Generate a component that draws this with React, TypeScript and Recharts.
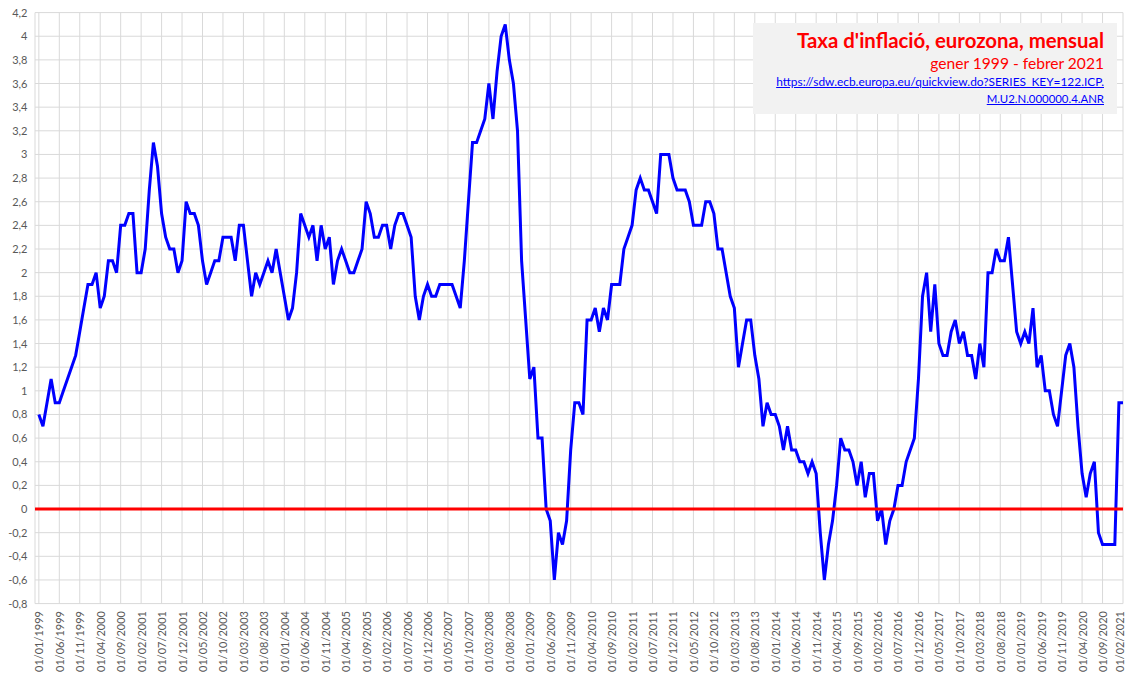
import React from 'react';
import { LineChart, Line, XAxis, YAxis, CartesianGrid, ReferenceLine } from 'recharts';

// Taxa d'inflació interanual, eurozona (HICP), mensual, gener 1999 - febrer 2021
const y1999 = [0.8, 0.7, 0.9, 1.1, 0.9, 0.9, 1.0, 1.1, 1.2, 1.3, 1.5, 1.7];
const y2000 = [1.9, 1.9, 2.0, 1.7, 1.8, 2.1, 2.1, 2.0, 2.4, 2.4, 2.5, 2.5];
const y2001 = [2.0, 2.0, 2.2, 2.7, 3.1, 2.9, 2.5, 2.3, 2.2, 2.2, 2.0, 2.1];
const y2002 = [2.6, 2.5, 2.5, 2.4, 2.1, 1.9, 2.0, 2.1, 2.1, 2.3, 2.3, 2.3];
const y2003 = [2.1, 2.4, 2.4, 2.1, 1.8, 2.0, 1.9, 2.0, 2.1, 2.0, 2.2, 2.0];
const y2004 = [1.8, 1.6, 1.7, 2.0, 2.5, 2.4, 2.3, 2.4, 2.1, 2.4, 2.2, 2.3];
const y2005 = [1.9, 2.1, 2.2, 2.1, 2.0, 2.0, 2.1, 2.2, 2.6, 2.5, 2.3, 2.3];
const y2006 = [2.4, 2.4, 2.2, 2.4, 2.5, 2.5, 2.4, 2.3, 1.8, 1.6, 1.8, 1.9];
const y2007 = [1.8, 1.8, 1.9, 1.9, 1.9, 1.9, 1.8, 1.7, 2.1, 2.6, 3.1, 3.1];
const y2008 = [3.2, 3.3, 3.6, 3.3, 3.7, 4.0, 4.1, 3.8, 3.6, 3.2, 2.1, 1.6];
const y2009 = [1.1, 1.2, 0.6, 0.6, 0.0, -0.1, -0.6, -0.2, -0.3, -0.1, 0.5, 0.9];
const y2010 = [0.9, 0.8, 1.6, 1.6, 1.7, 1.5, 1.7, 1.6, 1.9, 1.9, 1.9, 2.2];
const y2011 = [2.3, 2.4, 2.7, 2.8, 2.7, 2.7, 2.6, 2.5, 3.0, 3.0, 3.0, 2.8];
const y2012 = [2.7, 2.7, 2.7, 2.6, 2.4, 2.4, 2.4, 2.6, 2.6, 2.5, 2.2, 2.2];
const y2013 = [2.0, 1.8, 1.7, 1.2, 1.4, 1.6, 1.6, 1.3, 1.1, 0.7, 0.9, 0.8];
const y2014 = [0.8, 0.7, 0.5, 0.7, 0.5, 0.5, 0.4, 0.4, 0.3, 0.4, 0.3, -0.2];
const y2015 = [-0.6, -0.3, -0.1, 0.2, 0.6, 0.5, 0.5, 0.4, 0.2, 0.4, 0.1, 0.3];
const y2016 = [0.3, -0.1, 0.0, -0.3, -0.1, 0.0, 0.2, 0.2, 0.4, 0.5, 0.6, 1.1];
const y2017 = [1.8, 2.0, 1.5, 1.9, 1.4, 1.3, 1.3, 1.5, 1.6, 1.4, 1.5, 1.3];
const y2018 = [1.3, 1.1, 1.4, 1.2, 2.0, 2.0, 2.2, 2.1, 2.1, 2.3, 1.9, 1.5];
const y2019 = [1.4, 1.5, 1.4, 1.7, 1.2, 1.3, 1.0, 1.0, 0.8, 0.7, 1.0, 1.3];
const y2020 = [1.4, 1.2, 0.7, 0.3, 0.1, 0.3, 0.4, -0.2, -0.3, -0.3, -0.3, -0.3];
const y2021 = [0.9, 0.9];

// one label every 5 months
const tickLabels = [
  '01/01/1999', '01/06/1999', '01/11/1999', '01/04/2000', '01/09/2000', '01/02/2001',
  '01/07/2001', '01/12/2001', '01/05/2002', '01/10/2002', '01/03/2003', '01/08/2003',
  '01/01/2004', '01/06/2004', '01/11/2004', '01/04/2005', '01/09/2005', '01/02/2006',
  '01/07/2006', '01/12/2006', '01/05/2007', '01/10/2007', '01/03/2008', '01/08/2008',
  '01/01/2009', '01/06/2009', '01/11/2009', '01/04/2010', '01/09/2010', '01/02/2011',
  '01/07/2011', '01/12/2011', '01/05/2012', '01/10/2012', '01/03/2013', '01/08/2013',
  '01/01/2014', '01/06/2014', '01/11/2014', '01/04/2015', '01/09/2015', '01/02/2016',
  '01/07/2016', '01/12/2016', '01/05/2017', '01/10/2017', '01/03/2018', '01/08/2018',
  '01/01/2019', '01/06/2019', '01/11/2019', '01/04/2020', '01/09/2020', '01/02/2021',
];

const yTicks = [
  -0.8, -0.6, -0.4, -0.2, 0, 0.2, 0.4, 0.6, 0.8, 1, 1.2, 1.4, 1.6, 1.8, 2,
  2.2, 2.4, 2.6, 2.8, 3, 3.2, 3.4, 3.6, 3.8, 4, 4.2,
];

const inflation = [
  ...y1999, ...y2000, ...y2001, ...y2002, ...y2003, ...y2004, ...y2005, ...y2006,
  ...y2007, ...y2008, ...y2009, ...y2010, ...y2011, ...y2012, ...y2013, ...y2014,
  ...y2015, ...y2016, ...y2017, ...y2018, ...y2019, ...y2020, ...y2021,
];

const chartData = inflation.map((v, i) => ({ month: i, rate: v }));
const tickMonths = tickLabels.map((_, k) => k * 5);

const FONT = 'Lato, "Open Sans", sans-serif';
const AXIS_GREY = '#595959';

const XTick = (props: any) => {
  const { x, payload } = props;
  const label = tickLabels[tickMonths.indexOf(payload.value)];
  // keep the last label inside the picture
  const tx = Math.min(x + 4.5, 1124);
  return (
    <text
      transform={`translate(${tx},611) rotate(-90)`}
      textAnchor="end"
      fill={AXIS_GREY}
      fontSize={11}
      fontFamily={FONT}
    >
      {label}
    </text>
  );
};

const YTick = (props: any) => {
  const { y, payload } = props;
  const label = String(payload.value).replace('.', ',');
  return (
    <text x={27.5} y={y + 4} textAnchor="end" fill={AXIS_GREY} fontSize={11} fontFamily={FONT}>
      {label}
    </text>
  );
};

export default function App() {
  return (
    <div style={{ position: 'absolute', left: 0, top: 0, width: 1126, height: 677, background: '#fff' }}>
      <LineChart
        width={1126}
        height={677}
        data={chartData}
        margin={{ top: 12.6, right: 3, bottom: 0, left: 0 }}
      >
        <CartesianGrid stroke="#d9d9d9" strokeWidth={1} />
        <XAxis
          type="number"
          dataKey="month"
          domain={[0, 265]}
          ticks={tickMonths}
          interval={0}
          padding={{ left: 3.85, right: 0 }}
          height={73.4}
          axisLine={false}
          tickLine={false}
          tick={<XTick />}
        />
        <YAxis
          domain={[-0.8, 4.2]}
          ticks={yTicks}
          interval={0}
          width={35}
          axisLine={false}
          tickLine={false}
          tick={<YTick />}
        />
        <Line
          type="linear"
          dataKey="rate"
          stroke="#0000ff"
          strokeWidth={3}
          dot={false}
          isAnimationActive={false}
        />
        <ReferenceLine y={0} stroke="#ff0000" strokeWidth={3} />
      </LineChart>

      <div
        style={{
          position: 'absolute',
          left: 753,
          top: 23,
          width: 364,
          height: 91,
          background: '#f2f2f2',
          fontFamily: FONT,
        }}
      >
        <div style={{ position: 'absolute', right: 13, top: 5, fontSize: 20.4, lineHeight: '24px', fontWeight: 700, color: '#ff0000', whiteSpace: 'nowrap' }}>
          Taxa d'inflació, eurozona, mensual
        </div>
        <div style={{ position: 'absolute', right: 13, top: 31, fontSize: 15.6, lineHeight: '19px', color: '#ff0000', whiteSpace: 'nowrap' }}>
          gener 1999 - febrer 2021
        </div>
        <div style={{ position: 'absolute', right: 13, top: 52, fontSize: 11.9, lineHeight: '14px', color: '#0000ff', textDecoration: 'underline', whiteSpace: 'nowrap' }}>
          https://sdw.ecb.europa.eu/quickview.do?SERIES_KEY=122.ICP.
        </div>
        <div style={{ position: 'absolute', right: 13, top: 69, fontSize: 11.4, lineHeight: '14px', color: '#0000ff', textDecoration: 'underline', whiteSpace: 'nowrap' }}>
          M.U2.N.000000.4.ANR
        </div>
      </div>
    </div>
  );
}
